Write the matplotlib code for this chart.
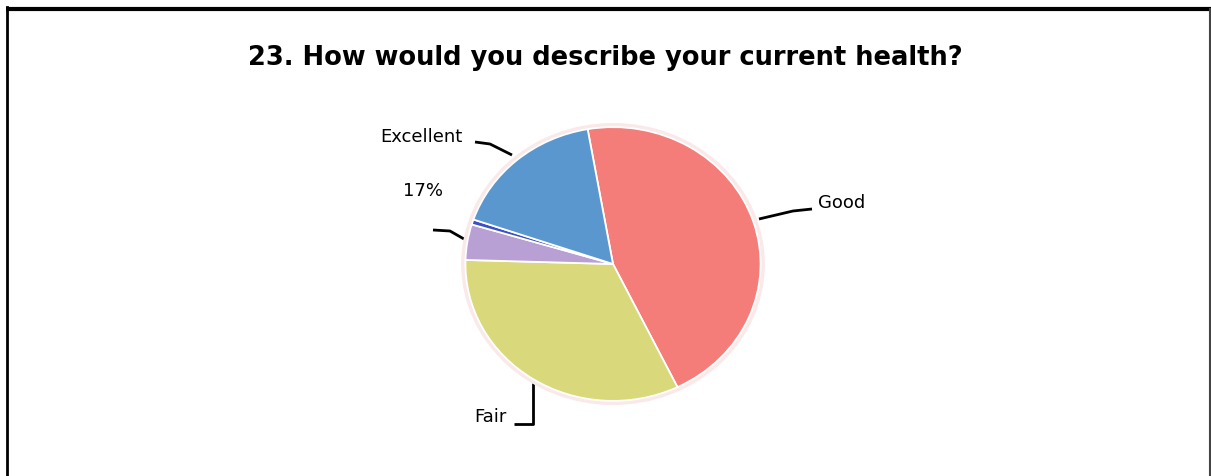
import matplotlib.pyplot as plt
from matplotlib.patches import Ellipse

# --- survey answers (percent of respondents) ---
categories = ['Good', 'Fair', 'Poor', 'Very poor', 'Excellent']
shares = [45.6, 32.7, 4.2, 0.6, 17.0]
colors = ['#F47C79', '#D9D87B', '#B8A0D4', '#3B4FC7', '#5B97CF']

TITLE = '23. How would you describe your current health?'
EXCELLENT_PCT = '17%'

W, H = 1211, 477
fig = plt.figure(figsize=(W / 100, H / 100), dpi=100)
fig.patch.set_facecolor('white')

# overlay in pixel coordinates for frame, labels and leader lines
ax = fig.add_axes([0, 0, 1, 1])
ax.set_xlim(0, W)
ax.set_ylim(H, 0)
ax.axis('off')

# pie lives in its own axes, slightly squashed like the original
cx, cy, rx, ry = 613, 265, 152, 141
pax = fig.add_axes([(cx - rx) / W, (H - cy - ry) / H, 2 * rx / W, 2 * ry / H])
pax.add_patch(Ellipse((0, 0), 2.03, 2.03, facecolor='none',
                      edgecolor='#FAE9E9', lw=3, zorder=0))
pax.pie(shares, colors=colors, startangle=99.9, counterclock=False,
        radius=1, wedgeprops=dict(edgecolor='white', linewidth=1.3))
pax.set_xlim(-1.03, 1.03)
pax.set_ylim(-1.03, 1.03)
pax.set_aspect('auto')
pax.axis('off')

# frame
ax.plot([6, W], [9.5, 9.5], color='black', lw=3, solid_capstyle='butt')
ax.plot([6.5, 6.5], [8, H], color='black', lw=2)
ax.plot([1209.5, 1209.5], [10, H], color='#444444', lw=1.5)

ax.text(605, 58, TITLE, ha='center', va='center', fontsize=18.5,
        fontweight='bold', color='black')

lab = dict(fontsize=13, color='black', va='center')
lead = dict(color='black', lw=2, solid_capstyle='butt')

# Excellent
ax.text(463, 137, categories[4], ha='right', **lab)
ax.plot([475, 490, 512], [143, 145, 156], **lead)
ax.text(423, 191, EXCELLENT_PCT, ha='center', **lab)

# Poor (leader only)
ax.plot([433, 450, 464], [231, 232, 240], **lead)

# Good
ax.text(818, 203, categories[0], ha='left', **lab)
ax.plot([759, 793, 812], [220, 212, 210], **lead)

# Fair
ax.text(507, 417, categories[1], ha='right', **lab)
ax.plot([514, 533, 533], [425, 425, 384], **lead)

fig.savefig('out.png', dpi=100, facecolor='white')
